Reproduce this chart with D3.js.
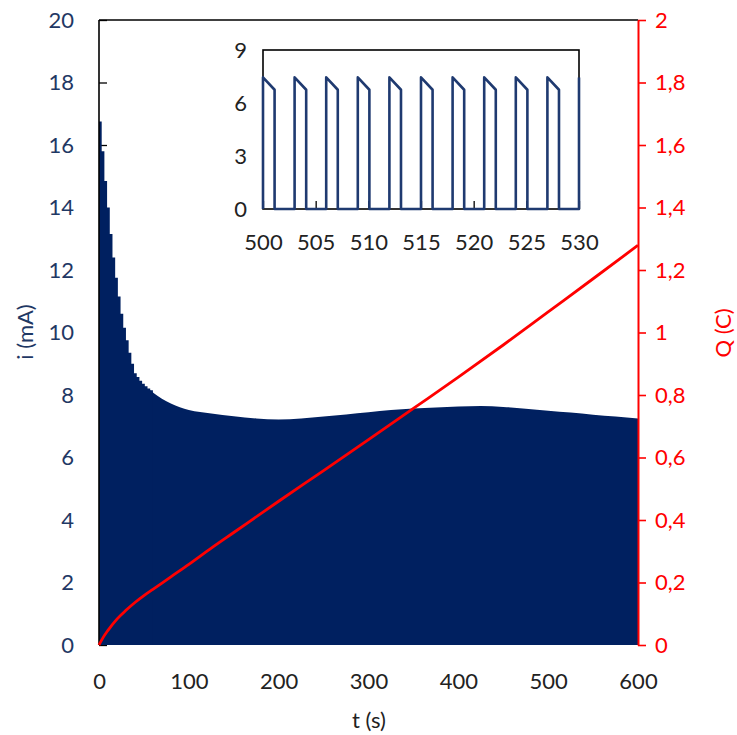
<!DOCTYPE html>
<html><head><meta charset="utf-8">
<script src="https://cdn.jsdelivr.net/npm/d3@7"></script>
<style>
body{margin:0;background:#fff}
svg{display:block}
text{font-family:Lato,"Open Sans",sans-serif}
</style>
</head><body>
<svg id="c" width="737" height="735"></svg>
<script>
// ---- data ----
// pulse peak current (mA) during the first minute, one value per 3 s pulse
const earlyT = [0,3,6,9,12,15,18,21,24,27,30,33,36,39,42,45,48,51,54,57,60];
const earlyI = [16.75,15.8,14.85,14.0,13.15,12.4,11.75,11.15,10.6,10.15,9.75,9.35,9.0,8.7,8.58,8.46,8.36,8.28,8.21,8.15,8.08];
// pulse peak current envelope (mA) afterwards
const envT = [57,60,70,80,90,100,125,150,175,200,225,250,275,300,325,350,375,400,425,450,475,500,525,550,575,600];
const envI = [8.15,8.08,7.88,7.73,7.61,7.52,7.41,7.32,7.25,7.22,7.25,7.31,7.38,7.45,7.52,7.57,7.6,7.63,7.65,7.62,7.56,7.5,7.44,7.37,7.31,7.25];
// charge (C)
const qT = [0,5,10,20,30,40,50,60,80,100,125,150,200,250,300,350,400,450,500,550,600];
const qC = [0,0.026,0.047,0.083,0.111,0.136,0.158,0.178,0.218,0.258,0.31,0.36,0.46,0.558,0.657,0.757,0.857,0.96,1.066,1.172,1.279];
// inset: pulses between 500 and 530 s
const insetStart = [500,503,506,509,512,515,518,521,524,527,530];
const insetEnd   = [501.1,504.1,507.1,510.1,513.1,516.1,519.1,522.1,525.1,528.1];
const insetPeak  = [7.45,7.45,7.45,7.45,7.45,7.45,7.45,7.45,7.45,7.45,7.45];
const insetLow   = [6.75,6.75,6.75,6.75,6.75,6.75,6.75,6.75,6.75,6.75];
// ticks
const iTicks = [0,2,4,6,8,10,12,14,16,18,20];
const qTicks = [0,0.2,0.4,0.6,0.8,1,1.2,1.4,1.6,1.8,2];
const tTicks = [0,100,200,300,400,500,600];
const insetITicks = [0,3,6,9];
const insetTTicks = [500,505,510,515,520,525,530];

// ---- drawing ----
const svg = d3.select("#c");
const NAVY = "#002060", NAVYTXT = "#1F3864", RED = "#FF0000", TXT = "#222";
const FS = 22;

const x = d3.scaleLinear([0,600],[99,638]);
const yI = d3.scaleLinear([0,20],[645,20]);
const yQ = d3.scaleLinear([0,2],[645,20]);

// left axis (ticks inward, mostly hidden by fill)
const gL = svg.append("g").attr("transform","translate(99,0)")
  .call(d3.axisLeft(yI).tickValues(iTicks).tickSizeInner(-8).tickSizeOuter(0).tickPadding(25).tickFormat(d3.format("d")));
gL.select(".domain").remove();
gL.selectAll("line").attr("stroke","#000").attr("stroke-width",1.3);
gL.selectAll("text").attr("fill",NAVYTXT).style("font-size",FS+"px").style("font-family","Lato");

// current fill
const early = earlyT.map((t,i)=>[t,earlyI[i]]);
const env = envT.map((t,i)=>[t,envI[i]]);
const area = d3.area().x(d=>x(d[0])).y0(yI(0)).y1(d=>yI(d[1]));
svg.append("path").datum(env).attr("fill",NAVY).attr("d",area.curve(d3.curveMonotoneX));
svg.append("path").datum(early).attr("fill",NAVY).attr("d",area.curve(d3.curveStepAfter));

// frame lines
svg.append("line").attr("x1",x(0)).attr("x2",x(0)).attr("y1",yI(20)).attr("y2",yI(0)).attr("stroke","#000").attr("stroke-width",1.6);
svg.append("line").attr("x1",x(0)).attr("x2",x(600)).attr("y1",yI(20)).attr("y2",yI(20)).attr("stroke","#000").attr("stroke-width",1.6);

// x axis
const gB = svg.append("g").attr("transform","translate(0,645)")
  .call(d3.axisBottom(x).tickValues(tTicks).tickSize(0).tickPadding(28).tickFormat(d3.format("d")));
gB.select(".domain").remove();
gB.selectAll("text").attr("fill",TXT).style("font-size",FS+"px").style("font-family","Lato");

// Q line
const qData = qT.map((t,i)=>[t,qC[i]]);
svg.append("path").datum(qData).attr("fill","none").attr("stroke",RED).attr("stroke-width",2.8)
  .attr("d",d3.line().x(d=>x(d[0])).y(d=>yQ(d[1])).curve(d3.curveMonotoneX));

// right axis
const gR = svg.append("g").attr("transform","translate(638,0)")
  .call(d3.axisRight(yQ).tickValues(qTicks).tickSizeInner(8).tickSizeOuter(0).tickPadding(9)
    .tickFormat(d=>d3.format("~g")(d).replace(".",",")));
gR.select(".domain").attr("stroke",RED).attr("stroke-width",2);
gR.selectAll("line").attr("stroke",RED).attr("stroke-width",1.6);
gR.selectAll("text").attr("fill",RED).style("font-size",FS+"px").style("font-family","Lato");

// axis titles
svg.append("text").attr("transform","translate(24,332) rotate(-90)").attr("text-anchor","middle")
  .attr("dominant-baseline","central").attr("fill",NAVYTXT).style("font-size",FS+"px").text("i (mA)");
svg.append("text").attr("transform","translate(722,333) rotate(-90)").attr("text-anchor","middle")
  .attr("dominant-baseline","central").attr("fill",RED).style("font-size",FS+"px").text("Q (C)");
svg.append("text").attr("x",369).attr("y",719).attr("text-anchor","middle")
  .attr("dominant-baseline","central").attr("fill",TXT).style("font-size",FS+"px").text("t (s)");

// ---- inset ----
const ix = d3.scaleLinear([500,530],[263,579]);
const iy = d3.scaleLinear([0,9],[209,50]);
const gIB = svg.append("g").attr("transform","translate(0,209)")
  .call(d3.axisBottom(ix).tickValues(insetTTicks).tickSizeInner(-8).tickSizeOuter(0).tickPadding(25).tickFormat(d3.format("d")));
gIB.select(".domain").remove();
gIB.selectAll("line").attr("stroke","#000").attr("stroke-width",1.3);
gIB.selectAll("text").attr("fill",TXT).style("font-size",FS+"px").style("font-family","Lato");
const gIL = svg.append("g").attr("transform","translate(263,0)")
  .call(d3.axisLeft(iy).tickValues(insetITicks).tickSize(0).tickPadding(16).tickFormat(d3.format("d")));
gIL.select(".domain").remove();
gIL.selectAll("text").attr("fill",TXT).style("font-size",FS+"px").style("font-family","Lato");
svg.append("rect").attr("x",ix(500)).attr("y",iy(9)).attr("width",ix(530)-ix(500)).attr("height",iy(0)-iy(9))
  .attr("fill","none").attr("stroke","#000").attr("stroke-width",1.6);

const pts = [];
insetStart.forEach((s,i)=>{
  pts.push([s,0],[s,insetPeak[i]]);
  if (insetEnd[i]!==undefined) pts.push([insetEnd[i],insetLow[i]],[insetEnd[i],0]);
});
svg.append("path").datum(pts).attr("fill","none").attr("stroke","#1F3A70").attr("stroke-width",2.6)
  .attr("stroke-linejoin","round")
  .attr("d",d3.line().x(d=>ix(d[0])).y(d=>iy(d[1])));
</script>
</body></html>
